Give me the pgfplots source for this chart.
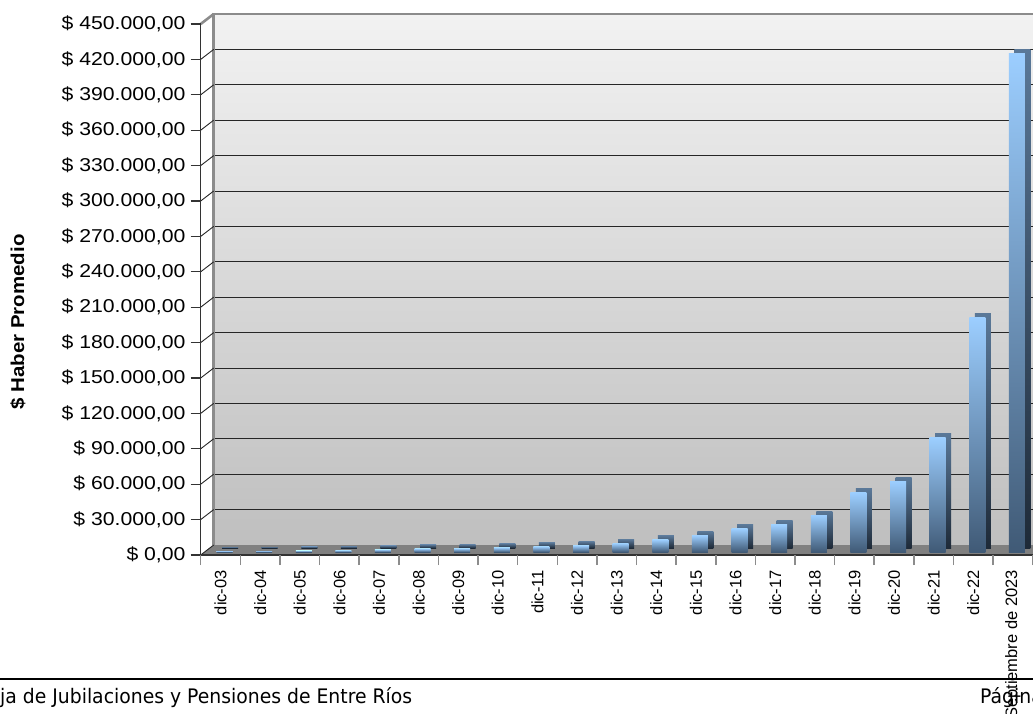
\documentclass[border=0pt]{standalone}
\usepackage{pgfplots}
\pgfplotsset{compat=1.18}
\usepackage{pgfplotstable}
\usepackage{fontspec}
\setmainfont{Liberation Sans}
\newfontfamily\ylabfont[FakeStretch=1.14]{Liberation Sans}
\newfontfamily\titfont[FakeStretch=1.10]{Liberation Sans}
\newfontfamily\footfont[FakeStretch=0.94]{DejaVu Sans}
\definecolor{wallTop}{HTML}{F2F2F2}
\definecolor{wallBot}{HTML}{BFBFBF}
\definecolor{floorc}{HTML}{808080}
\definecolor{barL}{HTML}{9CCEFF}
\definecolor{barM}{HTML}{6A8DB3}
\definecolor{barD}{HTML}{405A76}
\definecolor{sideL}{HTML}{5A7898}
\definecolor{sideD}{HTML}{1E2A38}
\definecolor{edge}{HTML}{8C8C8C}

\pgfplotstableread{
idx val
0 900
1 1000
2 1200
3 1500
4 2000
5 2800
6 3000
7 3700
8 4600
9 5400
10 7300
11 10400
12 14000
13 19700
14 22900
15 31300
16 50300
17 60000
18 96900
19 198600
20 422600
}\datatable

\pgfplotsset{base/.style={scale only axis, width=832pt, height=531pt,
  xmin=-0.5, xmax=20.5, ymin=0, ymax=450000, anchor=south west, clip=false,
  scaled y ticks=false, scaled x ticks=false}}

\begin{document}
\begin{tikzpicture}
\useasboundingbox (0,0) rectangle (1033pt,713pt);
% back wall
\begin{axis}[base, at={(213.7pt,168pt)},
  axis line style={draw=none},
  xtick=\empty, ytick={30000,60000,...,420000}, yticklabels={},
  major tick length=0pt,
  ymajorgrids, grid style={draw=black!85, line width=0.9pt},
  axis background/.style={top color=wallTop, bottom color=wallBot}]
\draw[edge, line width=2.6pt] (rel axis cs:0,0) -- (rel axis cs:0,1) -- (rel axis cs:1.05,1);
\end{axis}
% floor
\fill[floorc] (200.7pt,158pt) -- (1040pt,158pt) -- (1053pt,168pt) -- (213.7pt,168pt) -- cycle;
% left wall connectors
\foreach \k in {0,...,14} \draw[black!85, line width=0.9pt] (200.7pt,158pt+\k*35.4pt) -- ++(13pt,10pt);
\draw[edge, line width=2.6pt] (200.7pt,689pt) -- ++(13pt,10pt);
% bar sides and tops
\begin{axis}[base, at={(210.2pt,165pt)}, hide axis]
\pgfplotsinvokeforeach{0,...,20}{
\addplot[ybar, bar width=16pt, bar shift=0pt, draw=none, top color=sideL, bottom color=sideD,
  x filter/.expression={abs(x-#1)<0.1 ? x : nan}] table[x=idx,y=val]{\datatable};
}
\end{axis}
% bar fronts
\begin{axis}[base, at={(204.7pt,161pt)}, hide axis]
\pgfplotsinvokeforeach{0,...,20}{
\addplot[ybar, bar width=16pt, bar shift=0pt, draw=none, top color=barL, middle color=barM, bottom color=barD,
  x filter/.expression={abs(x-#1)<0.1 ? x : nan}] table[x=idx,y=val]{\datatable};
}
\end{axis}
% front axis
\begin{axis}[base, at={(200.7pt,158pt)},
  axis lines*=left,
  axis line style={draw=black!80, line width=1.5pt},
  tick align=outside, major tick length=10pt,
  ytick={0,30000,...,450000},
  yticklabels={{\$ 0,00},{\$ 30.000,00},{\$ 60.000,00},{\$ 90.000,00},{\$ 120.000,00},{\$ 150.000,00},{\$ 180.000,00},{\$ 210.000,00},{\$ 240.000,00},{\$ 270.000,00},{\$ 300.000,00},{\$ 330.000,00},{\$ 360.000,00},{\$ 390.000,00},{\$ 420.000,00},{\$ 450.000,00}},
  ytick style={draw=black!80, line width=1.2pt},
  yticklabel style={font=\fontsize{18.6}{20}\ylabfont, inner sep=0pt, xshift=-5pt},
  xtick={0,...,20},
  xticklabels={dic-03,dic-04,dic-05,dic-06,dic-07,dic-08,dic-09,dic-10,dic-11,dic-12,dic-13,dic-14,dic-15,dic-16,dic-17,dic-18,dic-19,dic-20,dic-21,dic-22,Septiembre de 2023},
  xtick style={draw=none},
  xticklabel style={rotate=90, anchor=east, inner sep=0pt, font=\fontsize{16.5}{18}\selectfont, xshift=-5pt},
  extra x ticks={-0.5,0.5,...,20.5},
  extra x tick labels={},
  extra x tick style={xtick style={draw=edge, line width=1.5pt}},
]
\end{axis}
% Y title
\node[rotate=90, inner sep=0pt] at (18pt,391pt) {\fontsize{18.6}{20}\titfont\bfseries \$ Haber Promedio};
% footer
\draw[black, line width=1.3pt] (0pt,34pt) -- (1033pt,34pt);
\node[anchor=base west, inner sep=0pt] at (0pt,10pt) {\fontsize{20}{24}\footfont ja de Jubilaciones y Pensiones de Entre Ríos};
\node[anchor=base west, inner sep=0pt] at (980pt,10pt) {\fontsize{20}{24}\footfont Página};
\end{tikzpicture}
\end{document}
